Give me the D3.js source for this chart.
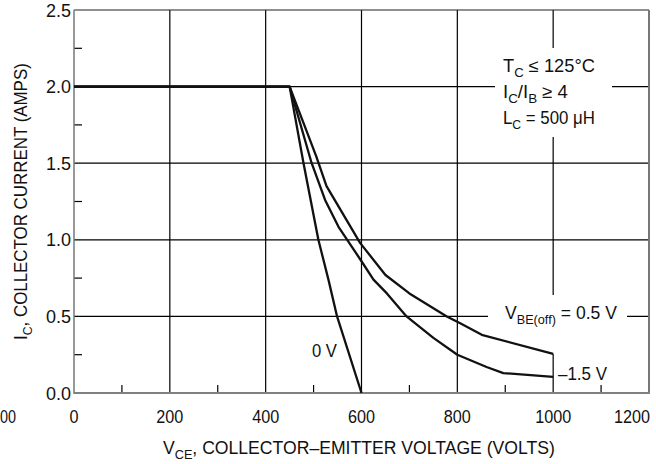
<!DOCTYPE html>
<html>
<head>
<meta charset="utf-8">
<script src="https://cdn.jsdelivr.net/npm/d3@7/dist/d3.min.js"></script>
<style>
  html, body { margin: 0; padding: 0; background: #fff; }
  svg { display: block; }
  text { font-family: "Liberation Sans", Arial, sans-serif; fill: #111; }
</style>
</head>
<body>
<svg id="chart" width="656" height="464"></svg>
<script>
// ---- data ----
const xMajorTicks = [0, 200, 400, 600, 800, 1000, 1200];
const xTickLabels = ["0", "200", "400", "600", "800", "1000", "1200"];
const xMinorTicks = [100, 300, 500, 700, 900, 1100];
const yMajorTicks = [0, 0.5, 1.0, 1.5, 2.0, 2.5];
const yMinorTicks = [0.25, 0.75, 1.25, 1.75, 2.25];
const yTickLabels = ["0.0", "0.5", "1.0", "1.5", "2.0", "2.5"];

const vce_p05 = [0, 450, 505, 527, 597, 650, 700, 778, 806, 851, 1000];
const ic_p05  = [2.0, 2.0, 1.55, 1.35, 0.98, 0.77, 0.65, 0.50, 0.455, 0.38, 0.255];

const vce_m15 = [0, 450, 496, 524, 552, 600, 625, 653, 694, 750, 800, 861, 896, 1000];
const ic_m15  = [2.0, 2.0, 1.50, 1.26, 1.085, 0.86, 0.74, 0.65, 0.50, 0.36, 0.25, 0.17, 0.13, 0.105];

const vce_0v = [0, 450, 479, 510, 531, 549, 600];
const ic_0v  = [2.0, 2.0, 1.50, 1.00, 0.74, 0.50, 0.0];

// ---- layout ----
const L = 74, R = 649, T = 10, B = 393;
const svg = d3.select("#chart");
const x = d3.scaleLinear().domain([0, 1200]).range([L, R]);
const y = d3.scaleLinear().domain([0, 2.5]).range([B, T]);

// gridlines
const grid = svg.append("g").attr("stroke", "#000").attr("stroke-width", 1.2);
grid.selectAll("line.v").data(xMajorTicks.filter(d => d > 0 && d < 1200)).join("line")
  .attr("x1", d => x(d)).attr("x2", d => x(d)).attr("y1", T).attr("y2", B);
grid.selectAll("line.h").data(yMajorTicks.filter(d => d > 0 && d < 2.5)).join("line")
  .attr("x1", L).attr("x2", R).attr("y1", d => y(d)).attr("y2", d => y(d));
// top border
svg.append("line").attr("x1", L).attr("x2", R).attr("y1", T).attr("y2", T)
  .attr("stroke", "#222").attr("stroke-width", 1.2);

// minor ticks
svg.append("g").selectAll("line").data(xMinorTicks).join("line")
  .attr("x1", d => x(d)).attr("x2", d => x(d)).attr("y1", B).attr("y2", B - 8)
  .attr("stroke", "#000").attr("stroke-width", 1.2);
svg.append("g").selectAll("line").data(yMinorTicks).join("line")
  .attr("x1", L).attr("x2", L + 8).attr("y1", d => y(d)).attr("y2", d => y(d))
  .attr("stroke", "#000").attr("stroke-width", 1.2);

// white label backgrounds
svg.append("rect").attr("x", 495).attr("y", 48).attr("width", 117).attr("height", 89).attr("fill", "#fff");
svg.append("rect").attr("x", 488).attr("y", 295).attr("width", 139).attr("height", 59).attr("fill", "#fff");

// axes borders
svg.append("line").attr("x1", L).attr("x2", L).attr("y1", T).attr("y2", B + 1)
  .attr("stroke", "#777").attr("stroke-width", 1.5);
svg.append("line").attr("x1", R).attr("x2", R).attr("y1", T).attr("y2", B + 1)
  .attr("stroke", "#777").attr("stroke-width", 2);
svg.append("line").attr("x1", L).attr("x2", R + 1).attr("y1", B).attr("y2", B)
  .attr("stroke", "#808080").attr("stroke-width", 2.2);

// curves
const line = d3.line().x(d => x(d[0])).y(d => y(d[1]));
[[vce_p05, ic_p05], [vce_m15, ic_m15], [vce_0v, ic_0v]].forEach(([xs, ys]) => {
  svg.append("path").datum(xs.map((v, i) => [v, ys[i]]))
    .attr("d", line).attr("fill", "none").attr("stroke", "#111")
    .attr("stroke-width", 2.3).attr("stroke-linejoin", "round");
});

const FS = 18;
// helper: scale a text horizontally by factor s around its x
function squeeze(t, s) {
  const x0 = +t.attr("x");
  t.attr("transform", `translate(${x0},0) scale(${s},1) translate(${-x0},0)`);
}
// helper: scale a text horizontally to a target width (anchor at start)
function fit(t, w) {
  const bb = t.node().getBBox();
  if (bb.width > 0) squeeze(t, w / bb.width);
}

// x tick labels (last one pulled inside the picture, as in the reference)
svg.append("g").selectAll("text").data(xMajorTicks).join("text")
  .attr("x", (d, i) => i === xMajorTicks.length - 1 ? 632 : x(d))
  .attr("y", 423).attr("text-anchor", "middle")
  .attr("font-size", FS).text((d, i) => xTickLabels[i])
  .each(function () { squeeze(d3.select(this), 0.9); });
const stray = svg.append("text").attr("x", 0).attr("y", 423).attr("text-anchor", "start")
  .attr("font-size", FS).text("00");
squeeze(stray, 0.8);

// y tick labels
svg.append("g").selectAll("text").data(yMajorTicks).join("text")
  .attr("x", 71).attr("y", d => y(d) + 6.5).attr("text-anchor", "end")
  .attr("font-size", FS).text((d, i) => yTickLabels[i]);

// x-axis title
const xt = svg.append("text").attr("x", 163).attr("y", 454).attr("font-size", FS);
xt.append("tspan").text("V");
xt.append("tspan").attr("font-size", 13).attr("dy", 5).text("CE");
xt.append("tspan").attr("dy", -5).text(", COLLECTOR\u2013EMITTER VOLTAGE (VOLTS)");
fit(xt, 392);

// y-axis title
const yg = svg.append("g").attr("transform", "translate(27,340) rotate(-90)");
const yt = yg.append("text").attr("x", 0).attr("y", 0).attr("font-size", FS);
yt.append("tspan").text("I");
yt.append("tspan").attr("font-size", 13).attr("dy", 5).text("C");
yt.append("tspan").attr("dy", -5).text(", COLLECTOR CURRENT (AMPS)");
fit(yt, 277);

// annotations
function sublabel(xp, yp, parts, w) {
  const t = svg.append("text").attr("x", xp).attr("y", yp).attr("font-size", FS);
  let off = 0;
  parts.forEach(p => {
    const ts = t.append("tspan").text(p[0]);
    if (p[1] === "sub") { ts.attr("font-size", 13).attr("dy", 5 - off); off = 5; }
    else { ts.attr("dy", -off); off = 0; }
  });
  if (w) fit(t, w);
  return t;
}
sublabel(503, 72, [["T"], ["C", "sub"], [" \u2264 125\u00B0C"]], 92);
sublabel(503, 98, [["I"], ["C", "sub"], ["/I"], ["B", "sub"], [" \u2265 4"]], 65);
sublabel(503, 124, [["L"], ["C", "sub"], [" = 500 \u03BCH"]], 92);
sublabel(505, 319, [["V"], ["BE(off)", "sub"], [" = 0.5 V"]], 112);
sublabel(558, 380, [["\u20131.5 V"]], 49);
sublabel(312, 357, [["0 V"]], 25);
</script>
</body>
</html>
